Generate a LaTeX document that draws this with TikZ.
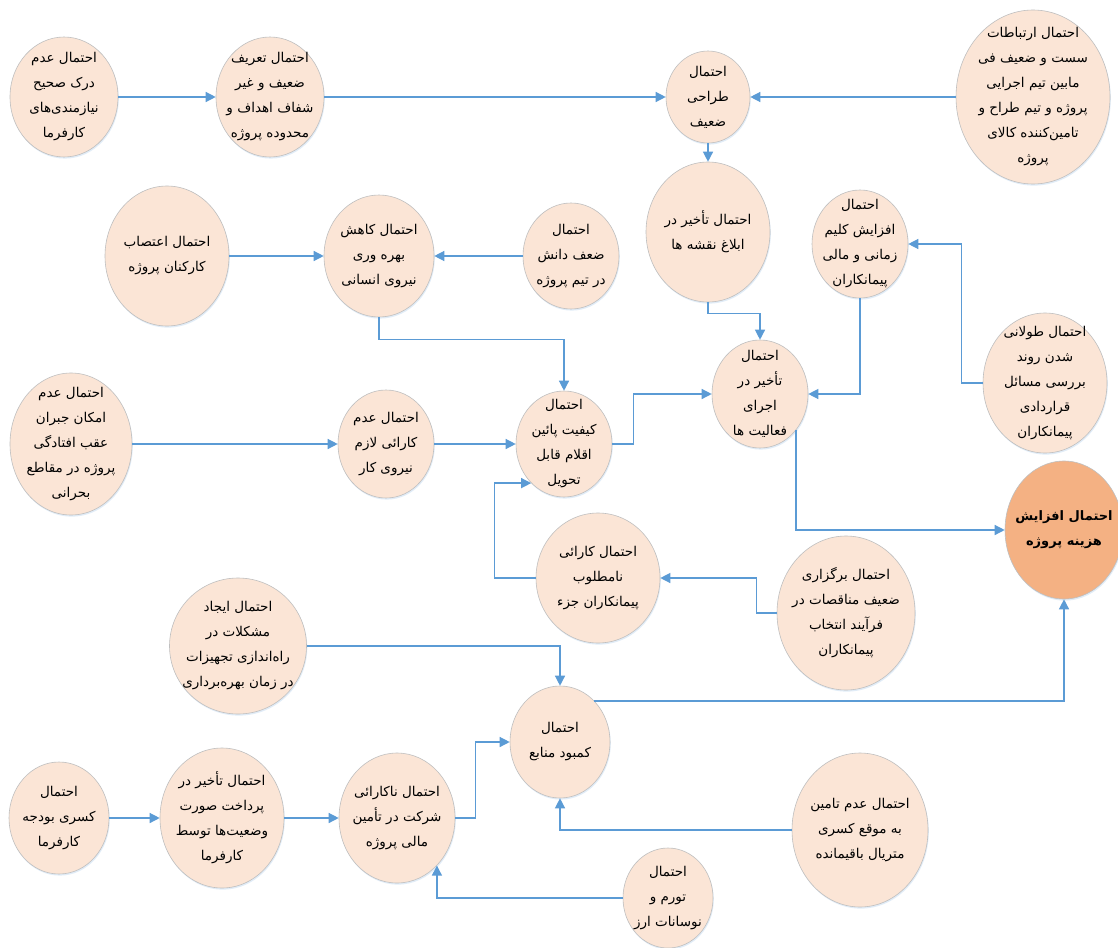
\documentclass[tikz,border=0pt]{standalone}
\usepackage{fontspec}
\usepackage{tikz}
\usetikzlibrary{shapes.geometric,arrows.meta,shadows}
\newfontfamily\arabicfont[Script=Arabic]{DejaVu Sans}
\TeXXeTstate=1
\newcommand{\fatext}[1]{\beginR#1\endR}
\definecolor{riskfill}{HTML}{FBE5D6}
\definecolor{riskline}{HTML}{BFBFBF}
\definecolor{costfill}{HTML}{F4B183}
\definecolor{linkblue}{HTML}{5B9BD5}

\begin{document}
\begin{tikzpicture}[x=1pt,y=-1pt,
  risk node/.style={ellipse,draw=riskline,fill=riskfill,line width=0.6pt,inner sep=-30pt,align=center,
    drop shadow={shadow xshift=0.8pt,shadow yshift=-1.6pt,opacity=0.18,fill=linkblue},
    font=\arabicfont\fontsize{13.5}{25}\selectfont},
  cost node/.style={risk node,fill=costfill,font=\arabicfont\bfseries\fontsize{13}{25}\selectfont},
  oval/.style 2 args={minimum width=#1,minimum height=#2},
  link/.style={draw=linkblue,line width=1.3pt,-{Triangle[length=10pt,width=10pt]}}]

\useasboundingbox[fill=white] (0,0) rectangle (1118,947);

\node[risk node,oval={108pt}{120pt}] (derk) at (64,97) {\fatext{احتمال عدم}\\\fatext{درک صحیح}\\\fatext{نیازمندی‌های}\\\fatext{کارفرما}};
\node[risk node,oval={108pt}{120pt}] (tarif) at (270,97) {\fatext{احتمال تعریف}\\\fatext{ضعیف و غیر}\\\fatext{شفاف اهداف و}\\\fatext{محدوده پروژه}};
\node[risk node,oval={84pt}{92pt}] (tarahi) at (708,97) {\fatext{احتمال}\\\fatext{طراحی}\\\fatext{ضعیف}};
\node[risk node,oval={154pt}{174pt}] (ertebat) at (1033,97) {\fatext{احتمال ارتباطات}\\\fatext{سست و ضعیف فی}\\\fatext{مابین تیم اجرایی}\\\fatext{پروژه و تیم طراح و}\\\fatext{تامین‌کننده کالای}\\\fatext{پروژه}};
\node[risk node,oval={124pt}{140pt}] (eblagh) at (708,232) {\fatext{احتمال تأخیر در}\\\fatext{ابلاغ نقشه ها}};
\node[risk node,oval={96pt}{108pt}] (kalim) at (860,244) {\fatext{احتمال}\\\fatext{افزایش کلیم}\\\fatext{زمانی و مالی}\\\fatext{پیمانکاران}};
\node[risk node,oval={124pt}{140pt}] (etesab) at (167,256) {\fatext{احتمال اعتصاب}\\\fatext{کارکنان پروژه}};
\node[risk node,oval={110pt}{122pt}] (kahesh) at (379,256) {\fatext{احتمال کاهش}\\\fatext{بهره وری}\\\fatext{نیروی انسانی}};
\node[risk node,oval={96pt}{106pt}] (danesh) at (571,256) {\fatext{احتمال}\\\fatext{ضعف دانش}\\\fatext{در تیم پروژه}};
\node[risk node,oval={96pt}{108pt}] (ejra) at (760,394) {\fatext{احتمال}\\\fatext{تأخیر در}\\\fatext{اجرای}\\\fatext{فعالیت ها}};
\node[risk node,oval={124pt}{140pt}] (tulani) at (1045,383) {\fatext{احتمال طولانی}\\\fatext{شدن روند}\\\fatext{بررسی مسائل}\\\fatext{قراردادی}\\\fatext{پیمانکاران}};
\node[cost node,oval={118pt}{138pt}] (hazine) at (1064,530) {\fatext{احتمال افزایش}\\\fatext{هزینه پروژه}};
\node[risk node,oval={122pt}{142pt}] (jobran) at (71,444) {\fatext{احتمال عدم}\\\fatext{امکان جبران}\\\fatext{عقب افتادگی}\\\fatext{پروژه در مقاطع}\\\fatext{بحرانی}};
\node[risk node,oval={96pt}{108pt}] (karaei) at (386,444) {\fatext{احتمال عدم}\\\fatext{کارائی لازم}\\\fatext{نیروی کار}};
\node[risk node,oval={96pt}{106pt}] (kifiat) at (564,444) {\fatext{احتمال}\\\fatext{کیفیت پائین}\\\fatext{اقلام قابل}\\\fatext{تحویل}};
\node[risk node,oval={124pt}{130pt}] (karaijaz) at (598,578) {\fatext{احتمال کارائی}\\\fatext{نامطلوب}\\\fatext{پیمانکاران جزء}};
\node[risk node,oval={138pt}{154pt}] (bargozari) at (846,613) {\fatext{احتمال برگزاری}\\\fatext{ضعیف مناقصات در}\\\fatext{فرآیند انتخاب}\\\fatext{پیمانکاران}};
\node[risk node,oval={137pt}{136pt}] (ijad) at (238,646) {\fatext{احتمال ایجاد}\\\fatext{مشکلات در}\\\fatext{راه‌اندازی تجهیزات}\\\fatext{در زمان بهره‌برداری}};
\node[risk node,oval={100pt}{112pt}] (kambud) at (560,742) {\fatext{احتمال}\\\fatext{کمبود منابع}};
\node[risk node,oval={100pt}{112pt}] (kasri) at (59,818) {\fatext{احتمال}\\\fatext{کسری بودجه}\\\fatext{کارفرما}};
\node[risk node,oval={124pt}{140pt}] (pardakht) at (222,818) {\fatext{احتمال تأخیر در}\\\fatext{پرداخت صورت}\\\fatext{وضعیت‌ها توسط}\\\fatext{کارفرما}};
\node[risk node,oval={116pt}{130pt}] (nakarai) at (397,818) {\fatext{احتمال ناکارائی}\\\fatext{شرکت در تأمین}\\\fatext{مالی پروژه}};
\node[risk node,oval={90pt}{100pt}] (tavarrom) at (668,898) {\fatext{احتمال}\\\fatext{تورم و}\\\fatext{نوسانات ارز}};
\node[risk node,oval={136pt}{154pt}] (tamin) at (860,830) {\fatext{احتمال عدم تامین}\\\fatext{به موقع کسری}\\\fatext{متریال باقیمانده}};

\draw[link] (derk) -- (tarif);
\draw[link] (tarif) -- (tarahi);
\draw[link] (ertebat) -- (tarahi);
\draw[link] (tarahi) -- (eblagh);
\draw[link] (etesab) -- (kahesh);
\draw[link] (danesh) -- (kahesh);
\draw[link] (kahesh.south) -- ++(0,22) -| (kifiat.north);
\draw[link] (eblagh.south) -- ++(0,11) -| (ejra.north);
\draw[link] (kalim.south) |- (ejra.east);
\draw[link] (tulani.west) -- ++(-21,0) |- (kalim.east);
\draw[link] (jobran) -- (karaei);
\draw[link] (karaei) -- (kifiat);
\draw[link] (kifiat.east) -- ++(21,0) |- (ejra.west);
\draw[link] (ejra.-45) |- (hazine.west);
\draw[link] (karaijaz.west) -- ++(-41,0) |- (kifiat.-130);
\draw[link] (bargozari.west) -- ++(-20,0) |- (karaijaz.east);
\draw[link] (ijad.east) -| (kambud.north);
\draw[link] (kambud.50) -| (hazine.south);
\draw[link] (kasri) -- (pardakht);
\draw[link] (pardakht) -- (nakarai);
\draw[link] (nakarai.east) -- ++(20,0) |- (kambud.west);
\draw[link] (tavarrom.west) -| (nakarai.-50);
\draw[link] (tamin.west) -| (kambud.south);

\end{tikzpicture}
\end{document}
